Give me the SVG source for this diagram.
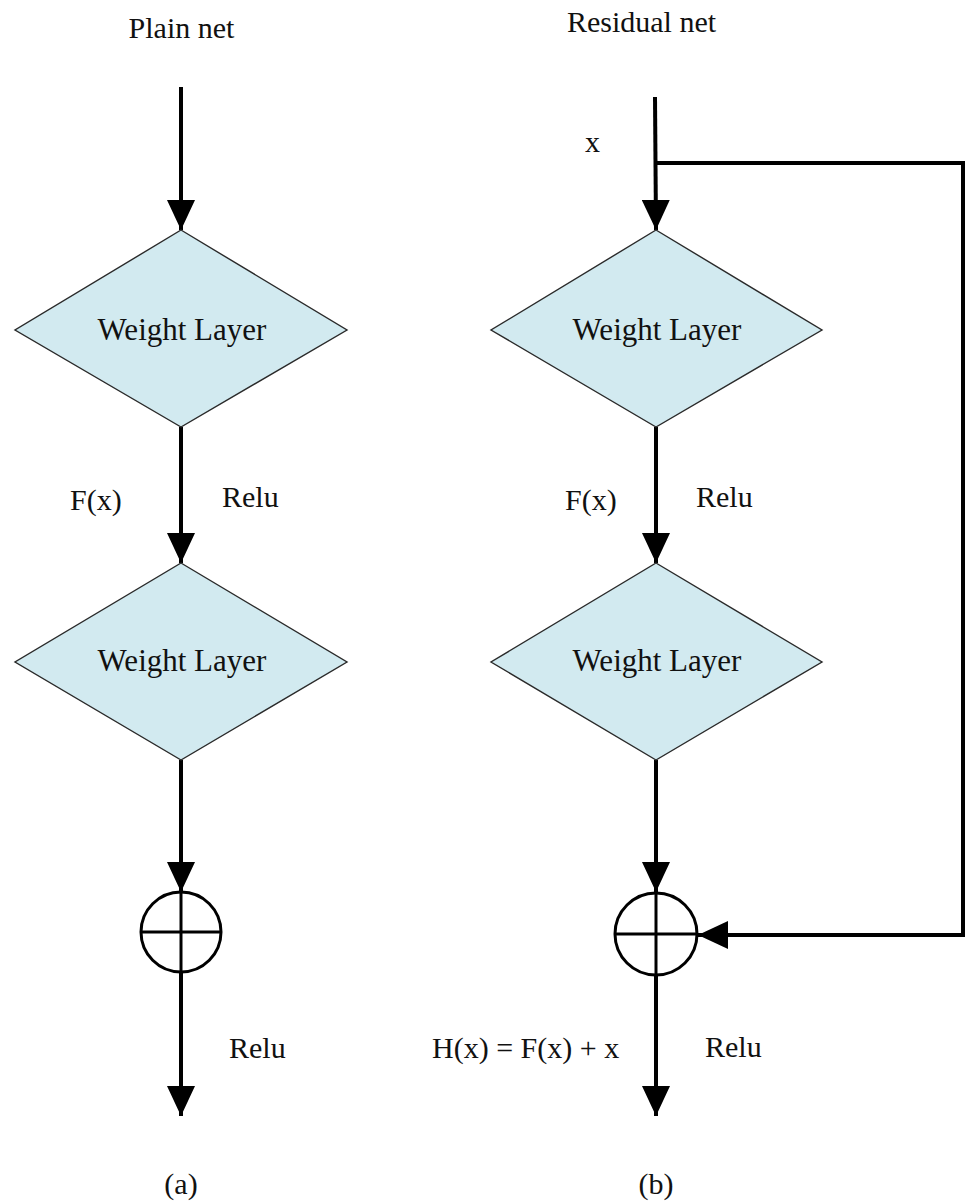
<svg xmlns="http://www.w3.org/2000/svg" width="966" height="1204" viewBox="0 0 966 1204">
<style>
text{font-family:"Liberation Serif","Times New Roman",serif;font-size:30px;fill:#111}
.c{text-anchor:middle}
.w{font-size:31px}
.d{fill:#d2eaf0;stroke:#2a2a2a;stroke-width:1.4}
.e{fill:none;stroke:#000;stroke-width:4}
.o{fill:#fff;stroke:#000;stroke-width:3}
.x{stroke:#000;stroke-width:3}
</style>
<defs>
<marker id="ah" markerUnits="userSpaceOnUse" markerWidth="30" markerHeight="28" refX="30" refY="14" orient="auto">
<path d="M0,0 L30,14 L0,28 z" fill="#000"/>
</marker>
</defs>
<text class="c" x="181.5" y="38">Plain net</text>
<text class="c" x="641.5" y="32">Residual net</text>
<g id="connectors">
<line class="e" x1="181" y1="87" x2="181" y2="230" marker-end="url(#ah)"/>
<line class="e" x1="181" y1="427" x2="181" y2="563" marker-end="url(#ah)"/>
<line class="e" x1="181" y1="760" x2="181" y2="892" marker-end="url(#ah)"/>
<line class="e" x1="181" y1="972" x2="181" y2="1116" marker-end="url(#ah)"/>
<line class="e" x1="655" y1="97" x2="656" y2="230" marker-end="url(#ah)"/>
<polyline class="e" points="655,163 963,163 963,935 698,935" marker-end="url(#ah)"/>
<line class="e" x1="656" y1="427" x2="656" y2="563" marker-end="url(#ah)"/>
<line class="e" x1="656" y1="760" x2="656" y2="892" marker-end="url(#ah)"/>
<line class="e" x1="656" y1="974" x2="656" y2="1116" marker-end="url(#ah)"/>
</g>
<g id="w1a"><polygon class="d" points="181,230 347,330 181,427 15,330"/><text class="c w" x="182" y="340">Weight Layer</text></g>
<g id="w2a"><polygon class="d" points="181,563 347,662 181,760 15,662"/><text class="c w" x="182" y="671">Weight Layer</text></g>
<g id="w1b"><polygon class="d" points="656,230 822,330 656,427 491,330"/><text class="c w" x="657" y="340">Weight Layer</text></g>
<g id="w2b"><polygon class="d" points="656,563 822,662 656,760 491,662"/><text class="c w" x="657" y="671">Weight Layer</text></g>
<g id="suma"><circle class="o" cx="181" cy="932" r="40"/><line class="x" x1="141" y1="932" x2="221" y2="932"/><line class="x" x1="181" y1="892" x2="181" y2="972"/></g>
<g id="sumb"><circle class="o" cx="656" cy="934" r="41"/><line class="x" x1="615" y1="934" x2="697" y2="934"/><line class="x" x1="656" y1="893" x2="656" y2="975"/></g>
<g id="labels">
<text x="585" y="152">x</text>
<text x="70" y="510">F(x)</text>
<text x="222" y="507">Relu</text>
<text x="565" y="510">F(x)</text>
<text x="696" y="507">Relu</text>
<text x="229" y="1058">Relu</text>
<text x="432" y="1058">H(x) = F(x) + x</text>
<text x="705" y="1057">Relu</text>
<text class="c" x="181" y="1194">(a)</text>
<text class="c" x="656" y="1194">(b)</text>
</g>
</svg>
